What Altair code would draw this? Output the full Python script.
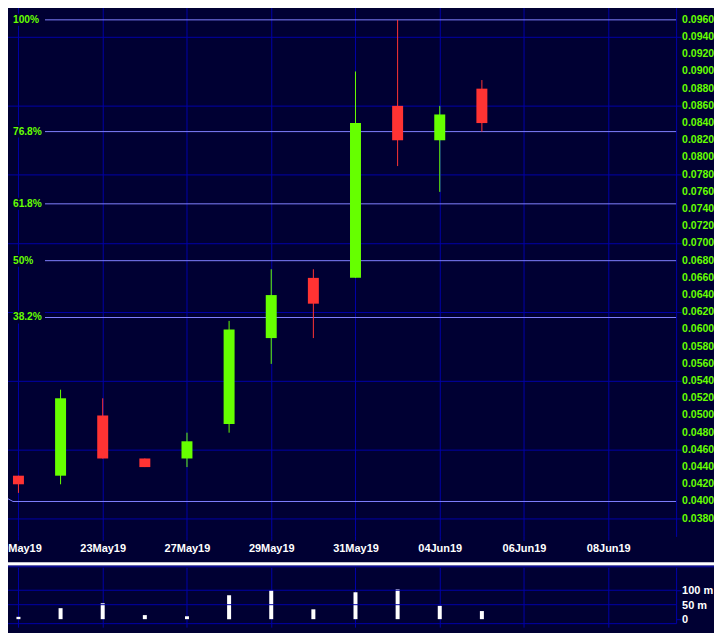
import altair as alt
import pandas as pd

# ---------------- data ----------------
candle_idx = list(range(12))
opens  = [0.0430, 0.0430, 0.0500, 0.0450, 0.0450, 0.0490, 0.0590, 0.0660, 0.0660, 0.0860, 0.0820, 0.0880]
highs  = [0.0430, 0.0530, 0.0520, 0.0450, 0.0480, 0.0610, 0.0670, 0.0670, 0.0900, 0.0960, 0.0860, 0.0890]
lows   = [0.0410, 0.0420, 0.0450, 0.0440, 0.0440, 0.0480, 0.0560, 0.0590, 0.0660, 0.0790, 0.0760, 0.0830]
closes = [0.0420, 0.0520, 0.0450, 0.0440, 0.0470, 0.0600, 0.0640, 0.0630, 0.0840, 0.0820, 0.0850, 0.0840]
volumes_m = [8, 38, 55, 14, 10, 83, 100, 34, 93, 103, 46, 28]

tick_idx = [0, 2, 4, 6, 8, 10, 12, 14]
tick_labels = ["20May19", "23May19", "27May19", "29May19", "31May19", "04Jun19", "06Jun19", "08Jun19"]

price_ticks = [0.0380, 0.0400, 0.0420, 0.0440, 0.0460, 0.0480, 0.0500, 0.0520, 0.0540, 0.0560,
               0.0580, 0.0600, 0.0620, 0.0640, 0.0660, 0.0680, 0.0700, 0.0720, 0.0740, 0.0760,
               0.0780, 0.0800, 0.0820, 0.0840, 0.0860, 0.0880, 0.0900, 0.0920, 0.0940, 0.0960, 0.0980]

fib_low = 0.0400
fib_high = 0.0960
fib_ratios = [1.0, 0.768, 0.618, 0.5, 0.382]
fib_names = ["100%", "76.8%", "61.8%", "50%", "38.2%"]

# lead-in of the 0% line coming from the left edge
zero_line_idx = [-0.39, -0.13, 15.61]
zero_line_price = [0.0407, 0.0400, 0.0400]

vol_ticks = [0, 50, 100]
vol_tick_labels = ["0", "50 m", "100 m"]
vol_grid = [50, 100]

# ---------------- styles ----------------
BG = "#000033"
GRID = "#0000a8"
FIB = "#8080ff"
GREEN = "#66ff00"
RED = "#ff3333"
FONT = "Liberation Sans"

W = 706
H_MAIN = 557
H_VOL = 56

candles = pd.DataFrame({
    "idx": candle_idx, "open": opens, "high": highs, "low": lows, "close": closes,
    "dir": ["up" if c >= o else "down" for o, c in zip(opens, closes)],
})
vol_df = pd.DataFrame({"idx": candle_idx, "vol": volumes_m})
fib_df = pd.DataFrame({
    "price": [fib_low + r * (fib_high - fib_low) for r in fib_ratios],
    "label": fib_names,
})
zero_df = pd.DataFrame({"idx": zero_line_idx, "price": zero_line_price})
price_tick_df = pd.DataFrame({"price": price_ticks})
vol_tick_df = pd.DataFrame({"v": vol_ticks, "label": vol_tick_labels})

X = alt.Scale(domain=[-1.1, 15.61], nice=False, zero=False, padding=0)
Y = alt.Scale(domain=[0.035942, 0.100522], nice=False, zero=False)
VY = alt.Scale(domain=[-13.8, 179.3], nice=False, zero=False)
COL = alt.Scale(domain=["up", "down"], range=[GREEN, RED])

ticks_js = "[" + ",".join(str(t) for t in tick_idx) + "]"
labels_js = "[" + ",".join("'%s'" % s for s in tick_labels) + "]"
x_label_expr = f"{labels_js}[indexof({ticks_js}, datum.value)]"

x_axis = alt.Axis(values=tick_idx, labelExpr=x_label_expr, grid=True, gridColor=GRID,
                  tickColor=GRID, tickSize=4, domain=False, labelColor="white",
                  labelFont=FONT, labelFontWeight="bold", labelFontSize=11,
                  labelPadding=2, labelAngle=0, labelOverlap=False, title=None)
y_axis = alt.Axis(orient="right", values=price_ticks, labels=False, grid=True, gridColor=GRID,
                  tickColor=GRID, tickSize=5, domain=True, domainColor=GRID, title=None)

# ---------------- main price panel ----------------
fib_lines = alt.Chart(fib_df).mark_rule(color=FIB, strokeWidth=1).encode(
    x=alt.value(73), x2=alt.value(W),
    y=alt.Y("price:Q", scale=Y, axis=y_axis),
)
zero_line = alt.Chart(zero_df).mark_line(color=FIB, strokeWidth=1, clip=True).encode(
    x=alt.X("idx:Q", scale=X, axis=x_axis),
    y=alt.Y("price:Q", scale=Y),
)
fib_bg = alt.Chart(fib_df).mark_tick(orient="horizontal", size=32, thickness=12,
                                     color=BG, opacity=1).encode(
    x=alt.value(57), y=alt.Y("price:Q", scale=Y),
)
fib_text = alt.Chart(fib_df).mark_text(align="left", baseline="middle", font=FONT,
                                       fontWeight="bold", fontSize=10.2, color=GREEN).encode(
    x=alt.value(41), y=alt.Y("price:Q", scale=Y), text="label:N",
)
price_labels = alt.Chart(price_tick_df).mark_text(align="left", baseline="middle", font=FONT,
                                                  fontWeight="bold", fontSize=10.5,
                                                  color=GREEN).encode(
    x=alt.value(W + 6), y=alt.Y("price:Q", scale=Y),
    text=alt.Text("price:Q", format=".4f"),
)
wicks = alt.Chart(candles).mark_rule(strokeWidth=1).encode(
    x=alt.X("idx:Q", scale=X),
    y=alt.Y("low:Q", scale=Y), y2="high:Q",
    color=alt.Color("dir:N", scale=COL, legend=None),
)
bodies = alt.Chart(candles).mark_bar(width=11).encode(
    x=alt.X("idx:Q", scale=X),
    y=alt.Y("open:Q", scale=Y), y2="close:Q",
    color=alt.Color("dir:N", scale=COL, legend=None),
)
main = alt.layer(fib_lines, zero_line, fib_bg, fib_text, price_labels, wicks, bodies).properties(
    width=W, height=H_MAIN)

# ---------------- volume panel ----------------
vx_axis = alt.Axis(values=tick_idx, labels=False, grid=True, gridColor=GRID, tickColor=GRID,
                   tickSize=4, domain=True, domainColor=GRID, title=None)
vy_axis = alt.Axis(orient="right", values=vol_ticks, labels=False, grid=False,
                   tickColor=GRID, tickSize=5, domain=True, domainColor=GRID, title=None)

one = pd.DataFrame({"a": [0]})
SEP_END = 744
sep_white = alt.Chart(one).mark_rule(color="white", strokeWidth=3).encode(
    x=alt.value(0), x2=alt.value(SEP_END), y=alt.value(-3.5))
sep_grey = alt.Chart(one).mark_rule(color="#7070c0", strokeWidth=1).encode(
    x=alt.value(0), x2=alt.value(SEP_END), y=alt.value(-1.5))
sep_blue = alt.Chart(one).mark_rule(color=GRID, strokeWidth=1).encode(
    x=alt.value(0), x2=alt.value(SEP_END), y=alt.value(-0.5))
vbars = alt.Chart(vol_df).mark_bar(width=4, color="white").encode(
    x=alt.X("idx:Q", scale=X, axis=vx_axis),
    y=alt.Y("vol:Q", scale=VY, axis=vy_axis),
    y2=alt.datum(0),
)
vgrid = alt.Chart(pd.DataFrame({"v": vol_grid})).mark_rule(color=GRID, strokeWidth=1).encode(
    y=alt.Y("v:Q", scale=VY))
vol_labels = alt.Chart(vol_tick_df).mark_text(align="left", baseline="middle", font=FONT,
                                              fontWeight="bold", fontSize=11, dy=1,
                                              color="white").encode(
    x=alt.value(W + 6), y=alt.Y("v:Q", scale=VY), text="label:N",
)
vol = alt.layer(vbars, vgrid, vol_labels, sep_white, sep_grey, sep_blue).properties(
    width=W, height=H_VOL)

chart = alt.vconcat(main, vol, spacing=31, bounds="flush").properties(
    padding={"left": -38, "top": -28, "right": -2, "bottom": 6},
    background=BG,
).configure_view(strokeWidth=0)

chart.save("out.html", embed_options={"renderer": "svg", "actions": False})
